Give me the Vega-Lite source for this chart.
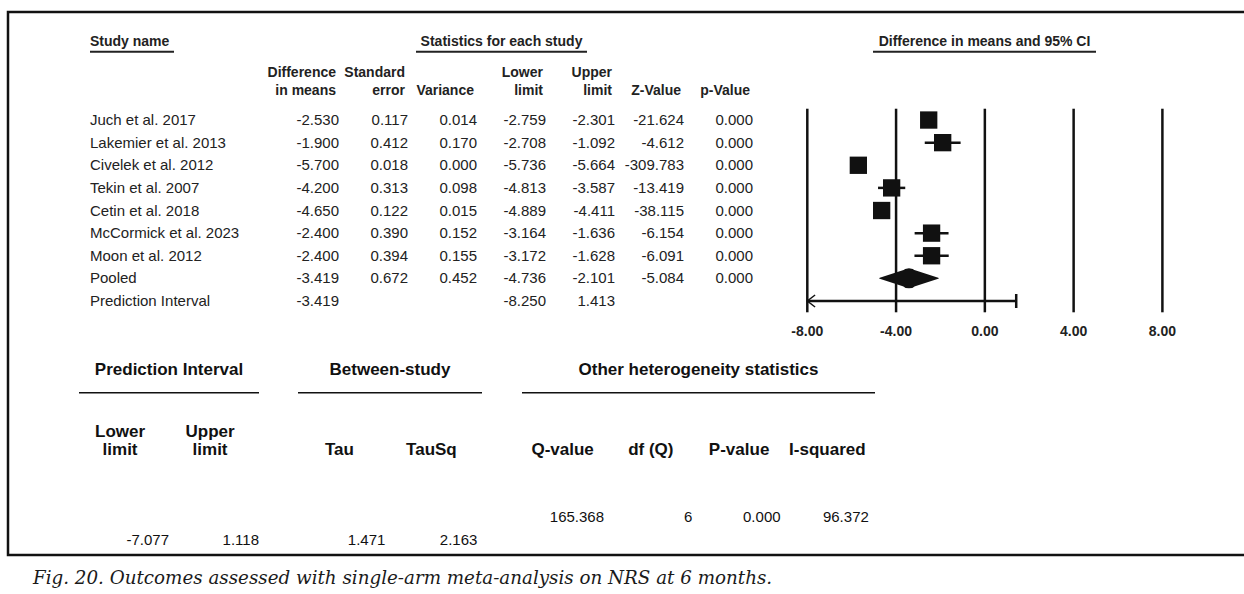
{
  "$schema": "https://vega.github.io/schema/vega-lite/v6.json",
  "width": 1244,
  "height": 594,
  "autosize": {"type": "fit", "contains": "padding"},
  "padding": {"left": 8, "top": 12, "right": 0, "bottom": 6},
  "background": "white",
  "title": {
    "text": "Fig. 20. Outcomes assessed with single-arm meta-analysis on NRS at 6 months.",
    "orient": "bottom", "anchor": "start", "frame": "group", "offset": 15, "dx": 25,
    "font": "DejaVu Serif", "fontSize": 18.3, "fontStyle": "italic", "fontWeight": "normal", "color": "#1a1a1a"
  },
  "config": {
    "view": {"stroke": "#111111", "strokeWidth": 2.5, "strokeDash": [1236, 543, 4000]},
    "axis": {"disable": true},
    "legend": {"disable": true},
    "font": "Liberation Sans",
    "locale": {"number": {"decimal": ".", "thousands": ",", "grouping": [3], "currency": ["$", ""], "minus": "-"}}
  },
  "datasets": {
    "studies": [
      {"study": "Juch et al. 2017", "kind": "study", "diff": -2.530, "se": 0.117, "var": 0.014, "lower": -2.759, "upper": -2.301, "z": -21.624, "p": 0.000},
      {"study": "Lakemier et al. 2013", "kind": "study", "diff": -1.900, "se": 0.412, "var": 0.170, "lower": -2.708, "upper": -1.092, "z": -4.612, "p": 0.000},
      {"study": "Civelek et al. 2012", "kind": "study", "diff": -5.700, "se": 0.018, "var": 0.000, "lower": -5.736, "upper": -5.664, "z": -309.783, "p": 0.000},
      {"study": "Tekin et al. 2007", "kind": "study", "diff": -4.200, "se": 0.313, "var": 0.098, "lower": -4.813, "upper": -3.587, "z": -13.419, "p": 0.000},
      {"study": "Cetin et al. 2018", "kind": "study", "diff": -4.650, "se": 0.122, "var": 0.015, "lower": -4.889, "upper": -4.411, "z": -38.115, "p": 0.000},
      {"study": "McCormick et al. 2023", "kind": "study", "diff": -2.400, "se": 0.390, "var": 0.152, "lower": -3.164, "upper": -1.636, "z": -6.154, "p": 0.000},
      {"study": "Moon et al. 2012", "kind": "study", "diff": -2.400, "se": 0.394, "var": 0.155, "lower": -3.172, "upper": -1.628, "z": -6.091, "p": 0.000},
      {"study": "Pooled", "kind": "pooled", "diff": -3.419, "se": 0.672, "var": 0.452, "lower": -4.736, "upper": -2.101, "z": -5.084, "p": 0.000},
      {"study": "Prediction Interval", "kind": "prediction", "diff": -3.419, "lower": -8.250, "upper": 1.413}
    ],
    "columns": [
      {"col": "diff", "h1": "Difference", "h2": "in means"},
      {"col": "se", "h1": "Standard", "h2": "error"},
      {"col": "var", "h2": "Variance"},
      {"col": "lower", "h1": "Lower", "h2": "limit"},
      {"col": "upper", "h1": "Upper", "h2": "limit"},
      {"col": "z", "h2": "Z-Value"},
      {"col": "p", "h2": "p-Value"}
    ],
    "headers": [
      {"title": "Study name"},
      {"title": "Statistics for each study"},
      {"title": "Difference in means and 95% CI"}
    ],
    "ticks": [{"tick": -8}, {"tick": -4}, {"tick": 0}, {"tick": 4}, {"tick": 8}],
    "hetero": [
      {"section": "Prediction Interval", "stat": "Lower limit", "value": -7.077},
      {"section": "Prediction Interval", "stat": "Upper limit", "value": 1.118},
      {"section": "Between-study", "stat": "Tau", "value": 1.471},
      {"section": "Between-study", "stat": "TauSq", "value": 2.163},
      {"section": "Other heterogeneity statistics", "stat": "Q-value", "value": 165.368},
      {"section": "Other heterogeneity statistics", "stat": "df (Q)", "value": 6},
      {"section": "Other heterogeneity statistics", "stat": "P-value", "value": 0.000},
      {"section": "Other heterogeneity statistics", "stat": "I-squared", "value": 96.372}
    ]
  },
  "resolve": {"scale": {"x": "independent", "y": "independent", "size": "independent"}},
  "layer": [
    {
      "data": {"name": "headers"},
      "transform": [{"filter": {"field": "title", "equal": "Study name"}}],
      "layer": [
        {"mark": {"type": "text", "align": "left", "baseline": "middle", "fontSize": 14, "fontWeight": "bold", "color": "#222222"},
         "encoding": {
           "x": {"field": "title", "type": "nominal", "bandPosition": 0, "scale": {"type": "band", "domain": ["Study name"], "range": [82, 166], "paddingInner": 0, "paddingOuter": 0}},
           "y": {"field": "title", "type": "nominal", "bandPosition": 0.5, "scale": {"type": "band", "domain": ["Study name"], "range": [21, 39.7], "paddingInner": 0, "paddingOuter": 0}},
           "text": {"field": "title"}}},
        {"mark": {"type": "rule", "strokeWidth": 2, "color": "#222222"},
         "encoding": {
           "x": {"field": "title", "type": "nominal", "bandPosition": 0},
           "x2": {"field": "title", "bandPosition": 1},
           "y": {"field": "title", "type": "nominal", "bandPosition": 1}}}
      ]
    },
    {
      "data": {"name": "headers"},
      "transform": [{"filter": {"field": "title", "equal": "Statistics for each study"}}],
      "layer": [
        {"mark": {"type": "text", "align": "center", "baseline": "middle", "fontSize": 14, "fontWeight": "bold", "color": "#222222"},
         "encoding": {
           "x": {"field": "title", "type": "nominal", "bandPosition": 0.5, "scale": {"type": "band", "domain": ["Statistics for each study"], "range": [408, 579], "paddingInner": 0, "paddingOuter": 0}},
           "y": {"field": "title", "type": "nominal", "bandPosition": 0.5, "scale": {"type": "band", "domain": ["Statistics for each study"], "range": [21, 39.7], "paddingInner": 0, "paddingOuter": 0}},
           "text": {"field": "title"}}},
        {"mark": {"type": "rule", "strokeWidth": 2, "color": "#222222"},
         "encoding": {
           "x": {"field": "title", "type": "nominal", "bandPosition": 0},
           "x2": {"field": "title", "bandPosition": 1},
           "y": {"field": "title", "type": "nominal", "bandPosition": 1}}}
      ]
    },
    {
      "data": {"name": "headers"},
      "transform": [{"filter": {"field": "title", "equal": "Difference in means and 95% CI"}}],
      "layer": [
        {"mark": {"type": "text", "align": "center", "baseline": "middle", "fontSize": 14, "fontWeight": "bold", "color": "#222222"},
         "encoding": {
           "x": {"field": "title", "type": "nominal", "bandPosition": 0.5, "scale": {"type": "band", "domain": ["Difference in means and 95% CI"], "range": [865, 1088], "paddingInner": 0, "paddingOuter": 0}},
           "y": {"field": "title", "type": "nominal", "bandPosition": 0.5, "scale": {"type": "band", "domain": ["Difference in means and 95% CI"], "range": [21, 39.7], "paddingInner": 0, "paddingOuter": 0}},
           "text": {"field": "title"}}},
        {"mark": {"type": "rule", "strokeWidth": 2, "color": "#222222"},
         "encoding": {
           "x": {"field": "title", "type": "nominal", "bandPosition": 0},
           "x2": {"field": "title", "bandPosition": 1},
           "y": {"field": "title", "type": "nominal", "bandPosition": 1}}}
      ]
    },
    {
      "data": {"name": "studies"},
      "mark": {"type": "text", "align": "left", "baseline": "middle", "fontSize": 15, "color": "#222222"},
      "encoding": {
        "x": {"datum": "Study name", "type": "nominal", "bandPosition": 0, "scale": {"type": "band", "domain": ["Study name"], "range": [82, 166], "paddingInner": 0, "paddingOuter": 0}},
        "y": {"field": "study", "type": "nominal", "scale": {"type": "band", "domain": ["colhead", "Juch et al. 2017", "Lakemier et al. 2013", "Civelek et al. 2012", "Tekin et al. 2007", "Cetin et al. 2018", "McCormick et al. 2023", "Moon et al. 2012", "Pooled", "Prediction Interval"], "range": [74.1, 300.3], "paddingInner": 0, "paddingOuter": 0}},
        "text": {"field": "study"}
      }
    },
    {
      "data": {"name": "studies"},
      "transform": [
        {"fold": ["diff", "se", "var", "lower", "upper", "z", "p"], "as": ["col", "val"]},
        {"filter": {"field": "val", "valid": true}}
      ],
      "mark": {"type": "text", "align": "right", "baseline": "middle", "fontSize": 15, "color": "#222222"},
      "encoding": {
        "x": {"field": "col", "type": "nominal", "scale": {"type": "point", "domain": ["diff", "se", "var", "lower", "upper", "z", "p"], "range": [331, 745], "padding": 0}},
        "y": {"field": "study", "type": "nominal", "scale": {"type": "band", "domain": ["colhead", "Juch et al. 2017", "Lakemier et al. 2013", "Civelek et al. 2012", "Tekin et al. 2007", "Cetin et al. 2018", "McCormick et al. 2023", "Moon et al. 2012", "Pooled", "Prediction Interval"], "range": [74.1, 300.3], "paddingInner": 0, "paddingOuter": 0}},
        "text": {"field": "val", "type": "quantitative", "format": ".3f"}
      }
    },
    {
      "data": {"name": "columns"},
      "layer": [
        {
          "mark": {"type": "text", "align": "right", "baseline": "alphabetic", "dx": -3, "fontSize": 14, "fontWeight": "bold", "color": "#222222"},
          "encoding": {
            "x": {"field": "col", "type": "nominal", "scale": {"type": "point", "domain": ["diff", "se", "var", "lower", "upper", "z", "p"], "range": [331, 745], "padding": 0}},
            "y": {"datum": "colhead", "type": "nominal", "bandPosition": 0.39, "scale": {"type": "band", "domain": ["colhead", "Juch et al. 2017", "Lakemier et al. 2013", "Civelek et al. 2012", "Tekin et al. 2007", "Cetin et al. 2018", "McCormick et al. 2023", "Moon et al. 2012", "Pooled", "Prediction Interval"], "range": [74.1, 300.3], "paddingInner": 0, "paddingOuter": 0}},
            "text": {"field": "h2"}
          }
        },
        {
          "transform": [{"filter": "isValid(datum.h1)"}],
          "mark": {"type": "text", "align": "right", "baseline": "alphabetic", "dx": -3, "dy": -18, "fontSize": 14, "fontWeight": "bold", "color": "#222222"},
          "encoding": {
            "x": {"field": "col", "type": "nominal"},
            "y": {"datum": "colhead", "type": "nominal", "bandPosition": 0.39},
            "text": {"field": "h1"}
          }
        }
      ]
    },
    {
      "data": {"name": "studies"},
      "layer": [
        {
          "data": {"name": "ticks"},
          "mark": {"type": "rule", "strokeWidth": 2.5, "color": "#111111"},
          "encoding": {
            "x": {"field": "tick", "type": "quantitative", "scale": {"type": "linear", "domain": [-8, 8], "range": [799.3, 1154.4], "clamp": true, "nice": false, "zero": false}},
            "y": {"datum": "Juch et al. 2017", "type": "nominal", "bandPosition": 0, "scale": {"type": "band", "domain": ["colhead", "Juch et al. 2017", "Lakemier et al. 2013", "Civelek et al. 2012", "Tekin et al. 2007", "Cetin et al. 2018", "McCormick et al. 2023", "Moon et al. 2012", "Pooled", "Prediction Interval"], "range": [74.1, 300.3], "paddingInner": 0, "paddingOuter": 0}},
            "y2": {"datum": "Prediction Interval", "bandPosition": 1}
          }
        },
        {
          "data": {"name": "ticks"},
          "mark": {"type": "text", "align": "center", "baseline": "middle", "fontSize": 14, "fontWeight": "bold", "color": "#222222"},
          "encoding": {
            "x": {"field": "tick", "type": "quantitative"},
            "y": {"datum": "Prediction Interval", "type": "nominal", "bandPosition": 1.87},
            "text": {"field": "tick", "type": "quantitative", "format": ".2f"}
          }
        },
        {
          "transform": [{"filter": {"field": "kind", "equal": "study"}}],
          "mark": {"type": "rule", "strokeWidth": 2.5, "color": "#111111"},
          "encoding": {
            "x": {"field": "lower", "type": "quantitative"},
            "x2": {"field": "upper"},
            "y": {"field": "study", "type": "nominal"}
          }
        },
        {
          "transform": [{"filter": {"field": "kind", "equal": "study"}}],
          "mark": {"type": "point", "shape": "square", "filled": true, "opacity": 1, "size": 300, "color": "#111111"},
          "encoding": {
            "x": {"field": "diff", "type": "quantitative"},
            "y": {"field": "study", "type": "nominal"}
          }
        },
        {
          "transform": [
            {"filter": {"field": "kind", "equal": "pooled"}},
            {"fold": ["lower", "diff", "upper"], "as": ["vertex", "pos"]}
          ],
          "mark": {"type": "trail", "color": "#111111", "opacity": 1},
          "encoding": {
            "x": {"field": "pos", "type": "quantitative"},
            "y": {"field": "study", "type": "nominal"},
            "size": {"field": "vertex", "type": "ordinal", "scale": {"type": "ordinal", "domain": ["lower", "diff", "upper"], "range": [0, 20, 0]}}
          }
        },
        {
          "transform": [{"filter": {"field": "kind", "equal": "prediction"}}],
          "mark": {"type": "rule", "strokeWidth": 2.5, "color": "#111111"},
          "encoding": {
            "x": {"field": "lower", "type": "quantitative"},
            "x2": {"field": "upper"},
            "y": {"field": "study", "type": "nominal"}
          }
        },
        {
          "transform": [{"filter": {"field": "kind", "equal": "prediction"}}],
          "mark": {"type": "point", "shape": "M1.3,-1L0,0L1.3,1", "filled": false, "opacity": 1, "size": 144, "strokeWidth": 1.5, "color": "#111111"},
          "encoding": {
            "x": {"field": "lower", "type": "quantitative"},
            "y": {"field": "study", "type": "nominal"}
          }
        },
        {
          "transform": [{"filter": {"field": "kind", "equal": "prediction"}}],
          "mark": {"type": "tick", "orient": "vertical", "size": 14, "thickness": 2.5, "opacity": 1, "color": "#111111"},
          "encoding": {
            "x": {"field": "upper", "type": "quantitative"},
            "y": {"field": "study", "type": "nominal"}
          }
        }
      ]
    },
    {
      "data": {"name": "hetero"},
      "transform": [{"filter": {"field": "section", "equal": "Prediction Interval"}}],
      "layer": [
        {
          "mark": {"type": "text", "align": "center", "baseline": "alphabetic", "dy": -18.5, "fontSize": 17, "fontWeight": "bold", "lineBreak": " ", "lineHeight": 18.5, "color": "#111111"},
          "encoding": {
            "x": {"field": "stat", "type": "nominal", "bandPosition": 0.456, "scale": {"type": "band", "domain": ["Lower limit", "Upper limit"], "range": [71, 251], "paddingInner": 0, "paddingOuter": 0}},
            "y": {"datum": "header", "type": "nominal", "scale": {"type": "band", "domain": ["title", "header", "values"], "range": [315.5, 570.5], "paddingInner": 0, "paddingOuter": 0}},
            "text": {"field": "stat"}
          }
        },
        {
          "mark": {"type": "text", "align": "right", "baseline": "middle", "fontSize": 15, "color": "#111111"},
          "encoding": {
            "x": {"field": "stat", "type": "nominal", "bandPosition": 1},
            "y": {"datum": "values", "type": "nominal"},
            "text": {"field": "value", "type": "quantitative", "format": ".3f"}
          }
        },
        {
          "transform": [{"aggregate": [{"op": "count", "as": "n"}], "groupby": ["section"]}],
          "layer": [
            {
              "mark": {"type": "text", "align": "center", "baseline": "middle", "fontSize": 17, "fontWeight": "bold", "color": "#111111"},
              "encoding": {
                "x": {"datum": "Lower limit", "type": "nominal", "bandPosition": 1},
                "y": {"datum": "title", "type": "nominal"},
                "text": {"field": "section"}
              }
            },
            {
              "mark": {"type": "rule", "strokeWidth": 1.4, "color": "#111111"},
              "encoding": {
                "x": {"datum": "Lower limit", "type": "nominal", "bandPosition": 0},
                "x2": {"datum": "Upper limit", "bandPosition": 1},
                "y": {"datum": "title", "type": "nominal", "bandPosition": 0.767}
              }
            }
          ]
        }
      ]
    },
    {
      "data": {"name": "hetero"},
      "transform": [{"filter": {"field": "section", "equal": "Between-study"}}],
      "layer": [
        {
          "mark": {"type": "text", "align": "center", "baseline": "alphabetic", "fontSize": 17, "fontWeight": "bold", "color": "#111111"},
          "encoding": {
            "x": {"field": "stat", "type": "nominal", "bandPosition": 0.45, "scale": {"type": "band", "domain": ["Tau", "TauSq"], "range": [290, 474], "paddingInner": 0, "paddingOuter": 0}},
            "y": {"datum": "header", "type": "nominal", "scale": {"type": "band", "domain": ["title", "header", "values"], "range": [315.5, 570.5], "paddingInner": 0, "paddingOuter": 0}},
            "text": {"field": "stat"}
          }
        },
        {
          "mark": {"type": "text", "align": "right", "baseline": "middle", "fontSize": 15, "color": "#111111"},
          "encoding": {
            "x": {"field": "stat", "type": "nominal", "bandPosition": 0.95},
            "y": {"datum": "values", "type": "nominal"},
            "text": {"field": "value", "type": "quantitative", "format": ".3f"}
          }
        },
        {
          "transform": [{"aggregate": [{"op": "count", "as": "n"}], "groupby": ["section"]}],
          "layer": [
            {
              "mark": {"type": "text", "align": "center", "baseline": "middle", "fontSize": 17, "fontWeight": "bold", "color": "#111111"},
              "encoding": {
                "x": {"datum": "Tau", "type": "nominal", "bandPosition": 1},
                "y": {"datum": "title", "type": "nominal"},
                "text": {"field": "section"}
              }
            },
            {
              "mark": {"type": "rule", "strokeWidth": 1.4, "color": "#111111"},
              "encoding": {
                "x": {"datum": "Tau", "type": "nominal", "bandPosition": 0},
                "x2": {"datum": "TauSq", "bandPosition": 1},
                "y": {"datum": "title", "type": "nominal", "bandPosition": 0.767}
              }
            }
          ]
        }
      ]
    },
    {
      "data": {"name": "hetero"},
      "transform": [{"filter": {"field": "section", "equal": "Other heterogeneity statistics"}}],
      "layer": [
        {
          "mark": {"type": "text", "align": "center", "baseline": "alphabetic", "fontSize": 17, "fontWeight": "bold", "color": "#111111"},
          "encoding": {
            "x": {"field": "stat", "type": "nominal", "bandPosition": 0.46, "scale": {"type": "band", "domain": ["Q-value", "df (Q)", "P-value", "I-squared"], "range": [514, 867], "paddingInner": 0, "paddingOuter": 0}},
            "y": {"datum": "header", "type": "nominal", "scale": {"type": "band", "domain": ["title", "header", "values"], "range": [315.5, 570.5], "paddingInner": 0, "paddingOuter": 0}},
            "text": {"field": "stat"}
          }
        },
        {
          "transform": [{"filter": "datum.stat !== 'df (Q)'"}],
          "mark": {"type": "text", "align": "right", "baseline": "middle", "fontSize": 15, "color": "#111111"},
          "encoding": {
            "x": {"field": "stat", "type": "nominal", "bandPosition": 0.93},
            "y": {"datum": "values", "type": "nominal", "bandPosition": 0.23},
            "text": {"field": "value", "type": "quantitative", "format": ".3f"}
          }
        },
        {
          "transform": [{"filter": "datum.stat === 'df (Q)'"}],
          "mark": {"type": "text", "align": "right", "baseline": "middle", "fontSize": 15, "color": "#111111"},
          "encoding": {
            "x": {"field": "stat", "type": "nominal", "bandPosition": 0.93},
            "y": {"datum": "values", "type": "nominal", "bandPosition": 0.23},
            "text": {"field": "value", "type": "quantitative", "format": "d"}
          }
        },
        {
          "transform": [{"aggregate": [{"op": "count", "as": "n"}], "groupby": ["section"]}],
          "layer": [
            {
              "mark": {"type": "text", "align": "center", "baseline": "middle", "fontSize": 17, "fontWeight": "bold", "color": "#111111"},
              "encoding": {
                "x": {"datum": "df (Q)", "type": "nominal", "bandPosition": 1},
                "y": {"datum": "title", "type": "nominal"},
                "text": {"field": "section"}
              }
            },
            {
              "mark": {"type": "rule", "strokeWidth": 1.4, "color": "#111111"},
              "encoding": {
                "x": {"datum": "Q-value", "type": "nominal", "bandPosition": 0},
                "x2": {"datum": "I-squared", "bandPosition": 1},
                "y": {"datum": "title", "type": "nominal", "bandPosition": 0.767}
              }
            }
          ]
        }
      ]
    }
  ]
}
